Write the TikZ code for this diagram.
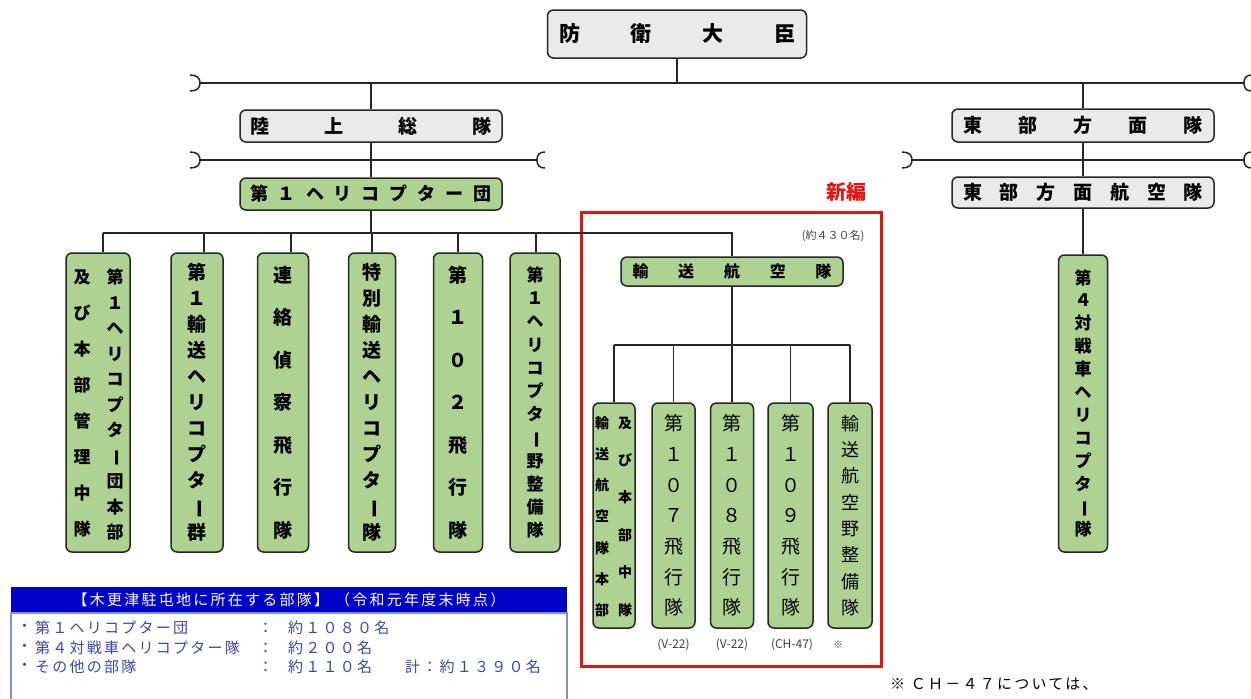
\documentclass[tikz,border=0pt]{standalone}
\usepackage{fontspec}
\setmainfont{Noto Sans CJK JP}
\newfontfamily\jpw{Noto Sans CJK JP}[LetterSpace=15]
\usetikzlibrary{calc}
\definecolor{boxgreen}{RGB}{174,210,145}
\definecolor{boxgray}{RGB}{234,234,234}
\definecolor{redline}{RGB}{228,20,20}
\definecolor{legblue}{RGB}{0,0,200}
\definecolor{legtext}{RGB}{60,70,170}
\definecolor{legborder}{RGB}{120,150,210}
\newcommand\vb{\rotatebox[origin=c]{-90}{ー}}
\tikzset{
  conn/.style={draw=black!85, line width=1.5pt},
  gbox/.style={draw=black!85, line width=1.5pt, rounded corners=6pt, fill=boxgray, inner sep=0pt, font=\bfseries},
  grbox/.style={draw=black!85, line width=1.5pt, rounded corners=6pt, fill=boxgreen, inner sep=0pt, font=\bfseries},
  vtxt/.style={align=center, inner sep=0pt},
  legt/.style={anchor=west, text=legtext, inner sep=0pt, font=\jpw\fontsize{15pt}{15pt}\selectfont},
  sublab/.style={text=black!75, font=\fontsize{12pt}{12pt}\selectfont},
}
\newcommand\hookL[1]{\draw[conn,shift={(#1)}] (-10,-8) .. controls (-3,-8) and (0,-5) .. (0,0) .. controls (0,5) and (-3,8) .. (-10,8);}
\newcommand\hookR[1]{\draw[conn,shift={(#1)}] (8,-8) .. controls (2,-8) and (0,-5) .. (0,0) .. controls (0,5) and (2,8) .. (8,8);}
\begin{document}
\begin{tikzpicture}[x=1pt,y=-1pt]
\useasboundingbox (0,0) rectangle (1251,699);
\fill[white] (0,0) rectangle (1251,699);

% top level boxes
\node[gbox, minimum width=259pt, minimum height=48pt] (minister) at (677,34)
  {\fontsize{21pt}{21pt}\selectfont\hbox to 236pt{防\hfill 衛\hfill 大\hfill 臣}};
\node[gbox, minimum width=262pt, minimum height=32pt] (rikujo) at (371,126)
  {\fontsize{19pt}{19pt}\selectfont\hbox to 242pt{陸\hfill 上\hfill 総\hfill 隊}};
\node[grbox, minimum width=262pt, minimum height=32pt] (heli) at (371,194)
  {\fontsize{18pt}{18pt}\selectfont\hbox to 242pt{第\hfill １\hfill ヘ\hfill リ\hfill コ\hfill プ\hfill タ\hfill ー\hfill 団}};
\node[gbox, minimum width=262pt, minimum height=33pt] (tobu) at (1083,125.5)
  {\fontsize{19pt}{19pt}\selectfont\hbox to 240pt{東\hfill 部\hfill 方\hfill 面\hfill 隊}};
\node[gbox, minimum width=262pt, minimum height=31pt] (tobuair) at (1083,192.5)
  {\fontsize{19pt}{19pt}\selectfont\hbox to 240pt{東\hfill 部\hfill 方\hfill 面\hfill 航\hfill 空\hfill 隊}};

% red frame
\draw[redline, line width=3pt] (581,212) rectangle (881,666);
\node[text=redline, font=\bfseries\fontsize{20pt}{20pt}\selectfont] (shinpen) at (846,192) {新編};
\node[text=black!75, font=\fontsize{11pt}{11pt}\selectfont] (ninzu) at (833,236) {(約４３０名)};

\node[grbox, minimum width=222pt, minimum height=29pt] (yuso) at (732,271.5)
  {\fontsize{16pt}{16pt}\selectfont\hbox to 199pt{輸\hfill 送\hfill 航\hfill 空\hfill 隊}};

% vertical boxes row
\node[grbox, minimum width=64pt, minimum height=299pt] (v1) at (98,402.5) {};
\node[vtxt, font=\bfseries\fontsize{17pt}{25.5pt}\selectfont] (v1r) at (115,404.5)
  {第\\１\\ヘ\\リ\\コ\\プ\\タ\\\vb\\団\\本\\部};
\node[vtxt, font=\bfseries\fontsize{17pt}{36.1pt}\selectfont] (v1l) at (82,403.5)
  {及\\び\\本\\部\\管\\理\\中\\隊};
\node[grbox, minimum width=52pt, minimum height=299pt, align=center,
  font=\bfseries\fontsize{19pt}{26pt}\selectfont] (v2) at (197,402.5)
  {第\\１\\輸\\送\\ヘ\\リ\\コ\\プ\\タ\\\vb\\群};
\node[grbox, minimum width=51pt, minimum height=299pt, align=center,
  font=\bfseries\fontsize{19pt}{42.5pt}\selectfont] (v3) at (283,402.5)
  {連\\絡\\偵\\察\\飛\\行\\隊};
\node[grbox, minimum width=47pt, minimum height=299pt, align=center,
  font=\bfseries\fontsize{19pt}{26pt}\selectfont] (v4) at (372,402.5)
  {特\\別\\輸\\送\\ヘ\\リ\\コ\\プ\\タ\\\vb\\隊};
\node[grbox, minimum width=49pt, minimum height=299pt, align=center,
  font=\bfseries\fontsize{19pt}{42.5pt}\selectfont] (v5) at (458,402.5)
  {第\\１\\０\\２\\飛\\行\\隊};
\node[grbox, minimum width=50pt, minimum height=299pt, align=center,
  font=\bfseries\fontsize{17pt}{23.2pt}\selectfont] (v6) at (535,402.5)
  {第\\１\\ヘ\\リ\\コ\\プ\\タ\\\vb\\野\\整\\備\\隊};
\node[grbox, minimum width=49pt, minimum height=297pt, align=center,
  font=\bfseries\fontsize{17pt}{22.9pt}\selectfont] (v7) at (1083,403.5)
  {第\\４\\対\\戦\\車\\ヘ\\リ\\コ\\プ\\タ\\\vb\\隊};

% sub boxes in red frame
\node[grbox, minimum width=42pt, minimum height=225pt] (s1) at (614,515.5) {};
\node[vtxt, font=\bfseries\fontsize{14pt}{31.2pt}\selectfont] (s1l) at (602,516.5)
  {輸\\送\\航\\空\\隊\\本\\部};
\node[vtxt, font=\bfseries\fontsize{14pt}{37.4pt}\selectfont] (s1r) at (625,516.5)
  {及\\び\\本\\部\\中\\隊};
\node[grbox, minimum width=43pt, minimum height=225pt, align=center,
  font=\fontsize{19pt}{30.7pt}\selectfont] (s2) at (673.5,515.5)
  {第\\１\\０\\７\\飛\\行\\隊};
\node[grbox, minimum width=43pt, minimum height=225pt, align=center,
  font=\fontsize{19pt}{30.7pt}\selectfont] (s3) at (732,515.5)
  {第\\１\\０\\８\\飛\\行\\隊};
\node[grbox, minimum width=45pt, minimum height=225pt, align=center,
  font=\fontsize{19pt}{30.7pt}\selectfont] (s4) at (790.5,515.5)
  {第\\１\\０\\９\\飛\\行\\隊};
\node[grbox, minimum width=44pt, minimum height=225pt, align=center,
  font=\fontsize{18pt}{26.3pt}\selectfont] (s5) at (850,515.5)
  {輸\\送\\航\\空\\野\\整\\備\\隊};

\node[sublab] (lab1) at (673.5,645) {(V-22)};
\node[sublab] (lab2) at (732,645) {(V-22)};
\node[sublab] (lab3) at (792,645) {(CH-47)};
\node[text=black!75, font=\fontsize{10pt}{10pt}\selectfont] (lab4) at (838,645) {※};

% connectors
\coordinate (b1L) at (200,83);
\coordinate (b1R) at (1244,83);
\hookL{b1L}
\hookR{b1R}
\draw[conn] (b1L) -- (b1R);
\draw[conn] (minister.south) -- (minister.south |- b1L);
\draw[conn] (rikujo.north) -- (rikujo.north |- b1L);
\draw[conn] (tobu.north) -- (tobu.north |- b1L);

\coordinate (b2L) at (200,160);
\coordinate (b2R) at (537,160);
\hookL{b2L}
\hookR{b2R}
\draw[conn] (b2L) -- (b2R);
\draw[conn] (rikujo.south) -- (heli.north);

\coordinate (b3L) at (912,160);
\coordinate (b3R) at (1244,160);
\hookL{b3L}
\hookR{b3R}
\draw[conn] (b3L) -- (b3R);
\draw[conn] (tobu.south) -- (tobuair.north);
\draw[conn] (tobuair.south) -- (v7.north);

\coordinate (b4) at (0,233);
\coordinate (v1c) at ([xshift=5pt]v1.north);
\coordinate (v2c) at ([xshift=7pt]v2.north);
\coordinate (v3c) at ([xshift=8pt]v3.north);
\coordinate (v4c) at (v4.north);
\coordinate (v5c) at (v5.north);
\coordinate (v6c) at ([xshift=1pt]v6.north);
\draw[conn] (heli.south) -- (heli.south |- b4);
\draw[conn] (v1c |- b4) -- (yuso.north |- b4) -- (yuso.north);
\foreach \n in {v1c,v2c,v3c,v4c,v5c,v6c} \draw[conn] (\n |- b4) -- (\n);

\coordinate (b5) at (0,345);
\draw[conn] (yuso.south) -- (yuso.south |- b5);
\draw[conn] (s1.north |- b5) -- (s5.north |- b5);
\foreach \n in {s1,s2,s3,s4,s5} \draw[conn] (\n.north |- b5) -- (\n.north);

% legend
\fill[legblue] (11,587) rectangle (567,613);
\draw[legborder, line width=1.2pt] (11,613) rectangle (567,712);
\node[text=white, font=\jpw\fontsize{15pt}{15pt}\selectfont] (leghead) at (289,600)
  {【木更津駐屯地に所在する部隊】\hspace{6pt}（令和元年度末時点）};
\node[legt] (l1a) at (17,628) {・};
\node[legt] (l1b) at (35,628) {第１ヘリコプター団};
\node[legt] (l1c) at (258,628) {：};
\node[legt] (l1d) at (288,628) {約１０８０名};
\node[legt] (l2a) at (17,648) {・};
\node[legt] (l2b) at (35,648) {第４対戦車ヘリコプター隊};
\node[legt] (l2c) at (258,648) {：};
\node[legt] (l2d) at (288,648) {約２００名};
\node[legt] (l3a) at (17,667) {・};
\node[legt] (l3b) at (35,667) {その他の部隊};
\node[legt] (l3c) at (258,667) {：};
\node[legt] (l3d) at (288,667) {約１１０名};
\node[legt] (l3e) at (405,667) {計：約１３９０名};

% note
\node[anchor=west, inner sep=0pt, font=\jpw\fontsize{15pt}{15pt}\selectfont] (note) at (890,684)
  {※ ＣＨ－４７については、};
\end{tikzpicture}
\end{document}
